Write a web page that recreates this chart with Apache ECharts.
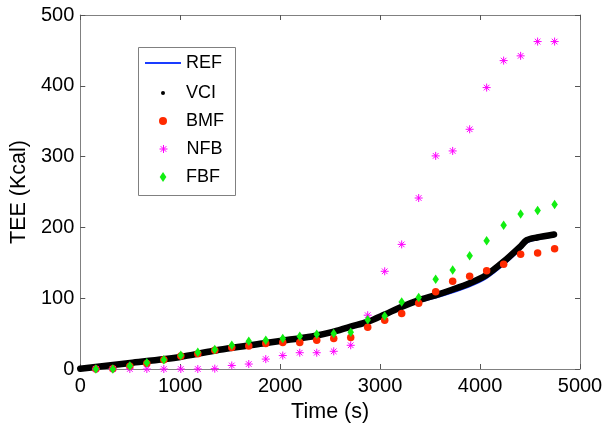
<!DOCTYPE html>
<html>
<head>
<meta charset="utf-8">
<script src="https://cdn.jsdelivr.net/npm/echarts@6/dist/echarts.min.js"></script>
<style>html,body{margin:0;padding:0;background:#fff}#chart{width:606px;height:428px}</style>
</head>
<body>
<div id="chart"></div>
<script>
// Continuous reference / VCI curves (time s, TEE kcal)
var refTime = [0, 500, 1000, 1325, 1821, 2000, 2318, 2517, 2705, 2874, 3046, 3212, 3382, 3550, 3720, 3890, 4060, 4230, 4400, 4467, 4570, 4740];
var refValues = [0.5, 8.5, 17, 25.5, 36, 39.6, 46, 52, 60, 66.5, 76, 86, 94.5, 100.5, 108, 116.5, 128, 146.5, 168.5, 178.5, 183, 187];
var vciValues = [0.5, 8.5, 17, 25.5, 36, 39.6, 46, 52, 60, 66.5, 77, 87.7, 97, 104, 112, 120.8, 132.5, 151, 172.6, 182, 185.8, 190];

// Sampled estimates
var sampleTime = [156, 326, 496, 666, 836, 1006, 1176, 1346, 1516, 1686, 1856, 2026, 2196, 2366, 2536, 2706, 2876, 3046, 3216, 3386, 3556, 3726, 3896, 4066, 4236, 4406, 4576, 4746];
var bmfValues = [0, 0.5, 3.8, 7.6, 13, 18.4, 21.7, 26.4, 30.5, 32.6, 35.9, 37.3, 37.5, 40.6, 43, 44.4, 59, 69, 78.5, 93, 109, 124, 131, 138.6, 148, 162, 164, 169.7];
var nfbValues = [0, 0, 0, 0, 0, 0, 0, 0.5, 5, 7, 14, 19, 23, 23, 25, 33.5, 76, 138, 176, 241.5, 301, 308, 338.6, 397.5, 435.6, 442.3, 462.5, 462.5];
var fbfValues = [0, 0, 4.2, 9, 13.2, 19.4, 23.6, 27.4, 33.5, 39.2, 40.6, 43, 46.2, 49, 50, 51.9, 69.5, 75, 94.8, 101, 126.7, 139.8, 160, 181, 203, 219, 224, 232.3];

var xTicks = [0, 1000, 2000, 3000, 4000, 5000];
var yTicks = [0, 100, 200, 300, 400, 500];

function pairs(xs, ys) { return xs.map(function (x, i) { return [x, ys[i]]; }); }
function plain(v) { return String(v); }

var FONT = 'Liberation Sans';
var AXIS_COLOR = '#808080';
var DIAMOND = 'path://M0,-1.5L1,0L0,1.5L-1,0Z';
var ASTER = 'path://M0,-4L0,4M-4,0L4,0M-2.8,-2.8L2.8,2.8M-2.8,2.8L2.8,-2.8';

function mkLegend(name, left, top, itemHeight, icon, extra) {
  var l = {
    data: [{ name: name, icon: icon }],
    left: left, top: top, padding: 0, itemGap: 0,
    itemWidth: 36, itemHeight: itemHeight,
    selectedMode: false,
    textStyle: { fontFamily: FONT, fontSize: 18, color: '#000', lineHeight: 18, padding: [0, 0, 0, 0] }
  };
  if (extra) { for (var k in extra) l[k] = extra[k]; }
  return l;
}

var chart = echarts.init(document.getElementById('chart'), null, { renderer: 'canvas' });
chart.setOption({
  animation: false,
  backgroundColor: '#fff',
  grid: { left: 76, right: 26, top: 15, bottom: 59 },
  xAxis: [{
    type: 'value', min: xTicks[0], max: xTicks[xTicks.length - 1], interval: xTicks[1] - xTicks[0],
    name: 'Time (s)', nameLocation: 'middle', nameGap: 32,
    nameTextStyle: { fontFamily: FONT, fontSize: 21.5, color: '#000' },
    axisLine: { show: true, onZero: false, lineStyle: { color: AXIS_COLOR, width: 1 } },
    axisTick: { show: true, inside: true, length: 5, lineStyle: { color: '#555' } },
    axisLabel: { fontFamily: FONT, fontSize: 20, color: '#000', margin: 7, formatter: plain },
    splitLine: { show: false }
  }, {
    type: 'value', position: 'top', min: xTicks[0], max: xTicks[xTicks.length - 1], interval: xTicks[1] - xTicks[0],
    axisLine: { show: true, onZero: false, lineStyle: { color: AXIS_COLOR, width: 1 } },
    axisTick: { show: true, inside: true, length: 5, lineStyle: { color: '#555' } },
    axisLabel: { show: false }, splitLine: { show: false }
  }],
  yAxis: [{
    type: 'value', min: yTicks[0], max: yTicks[yTicks.length - 1], interval: yTicks[1] - yTicks[0],
    name: 'TEE (Kcal)', nameLocation: 'middle', nameGap: 50,
    nameTextStyle: { fontFamily: FONT, fontSize: 21.5, color: '#000' },
    axisLine: { show: true, onZero: false, lineStyle: { color: AXIS_COLOR, width: 1 } },
    axisTick: { show: true, inside: true, length: 5, lineStyle: { color: '#555' } },
    axisLabel: { fontFamily: FONT, fontSize: 20, color: '#000', margin: 6, formatter: plain },
    splitLine: { show: false }
  }, {
    type: 'value', position: 'right', min: yTicks[0], max: yTicks[yTicks.length - 1], interval: yTicks[1] - yTicks[0],
    axisLine: { show: true, onZero: false, lineStyle: { color: AXIS_COLOR, width: 1 } },
    axisTick: { show: true, inside: true, length: 5, lineStyle: { color: '#555' } },
    axisLabel: { show: false }, splitLine: { show: false }
  }],
  graphic: [{
    type: 'rect', z: 1,
    shape: { x: 138.5, y: 47.5, width: 97, height: 148 },
    style: { fill: '#fff', stroke: AXIS_COLOR, lineWidth: 1 }
  }],
  legend: [
    mkLegend('REF', 145, 54, 2, 'rect'),
    mkLegend('VCI', 161, 84, 4, 'circle'),
    mkLegend('BMF', 159, 112, 8, 'circle'),
    mkLegend('NFB', 159, 140, 8, ASTER, { itemStyle: { borderWidth: 1, borderColor: '#ff00ff', color: '#ff00ff' } }),
    mkLegend('FBF', 159.7, 168, 10, DIAMOND)
  ],
  series: [{
    name: 'REF', type: 'line', z: 2, symbol: 'none', smooth: 0.3,
    color: '#1a3cff',
    lineStyle: { color: '#1a3cff', width: 2 },
    data: pairs(refTime, refValues)
  }, {
    name: 'VCI', type: 'line', z: 3, symbol: 'none', smooth: 0.3,
    color: '#000',
    lineStyle: { color: '#000', width: 6.5, cap: 'round', join: 'round' },
    data: pairs(refTime, vciValues)
  }, {
    name: 'BMF', type: 'scatter', z: 4, symbol: 'circle', symbolSize: 7.5,
    itemStyle: { color: '#ff2a00', opacity: 1 },
    data: pairs(sampleTime, bmfValues)
  }, {
    name: 'NFB', type: 'scatter', z: 5, symbol: ASTER, symbolSize: 8,
    itemStyle: { color: '#ff00ff', borderColor: '#ff00ff', borderWidth: 1, opacity: 1 },
    data: pairs(sampleTime, nfbValues)
  }, {
    name: 'FBF', type: 'scatter', z: 6, symbol: DIAMOND, symbolSize: [6.5, 9.5],
    itemStyle: { color: '#11ee11', opacity: 1 },
    data: pairs(sampleTime, fbfValues)
  }]
});
</script>
</body>
</html>
